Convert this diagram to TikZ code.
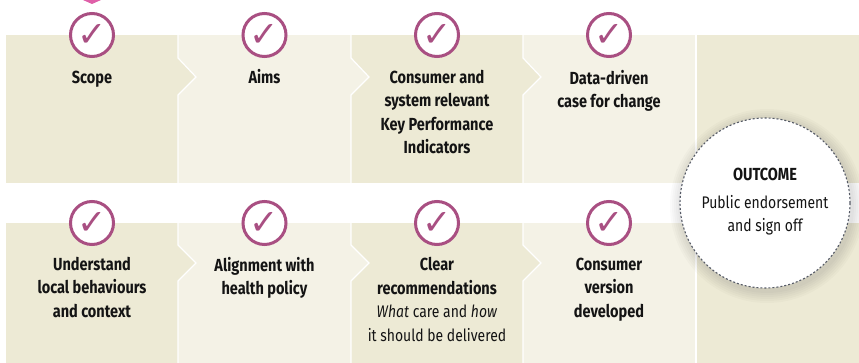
\documentclass[tikz,border=0pt]{standalone}
\usepackage{fontspec}
\setmainfont{Fira Sans}[FakeStretch=0.83]
\newfontfamily\chk{DejaVu Sans}
\newcommand{\regtext}{\fontsize{16.8}{23.5}\selectfont}
\definecolor{darkbeige}{HTML}{EDEAD5}
\definecolor{lightbeige}{HTML}{F4F2E6}
\definecolor{plum}{HTML}{A94F82}
\definecolor{pinktip}{HTML}{DF5FA8}
\definecolor{dotline}{HTML}{555A66}
\tikzset{
  panel/.style={draw=white,line width=1.2pt,line join=miter},
  tickring/.style={circle,draw=plum,line width=3pt,fill=white,minimum size=43pt,inner sep=0pt,text=plum,font=\chk\fontsize{35}{35}\selectfont},
  label/.style={align=center,text=black!92,anchor=north,font=\fontsize{17.5}{23.5}\selectfont,inner sep=0pt,execute at begin node={\rule{0pt}{14pt}}},
}
\begin{document}
\begin{tikzpicture}[x=1pt,y=-1pt]
\useasboundingbox (0,0) rectangle (859,363);
\fill[white] (0,0) rectangle (859,363);
% top row
\fill[darkbeige] (6,35) rectangle (178,183);
\fill[lightbeige] (178,35) rectangle (351,183);
\fill[darkbeige] (351,35) rectangle (523,183);
\fill[lightbeige] (523,35) rectangle (696,183);
\fill[darkbeige] (696,35) rectangle (859,183);
% bottom row
\fill[darkbeige] (6,223) rectangle (178,363);
\fill[lightbeige] (178,223) rectangle (351,363);
\fill[darkbeige] (351,223) rectangle (523,363);
\fill[lightbeige] (523,223) rectangle (696,363);
\fill[darkbeige] (696,223) rectangle (859,363);
% chevrons top
\fill[darkbeige] (178,58) -- (196,77) -- (178,95) -- cycle;
\fill[lightbeige] (351,58) -- (369,77) -- (351,95) -- cycle;
\fill[darkbeige] (523,58) -- (541,77) -- (523,95) -- cycle;
\draw[panel] (178,35) -- (178,58) -- (196,77) -- (178,95) -- (178,183);
\draw[panel] (351,35) -- (351,58) -- (369,77) -- (351,95) -- (351,183);
\draw[panel] (523,35) -- (523,58) -- (541,77) -- (523,95) -- (523,183);
\draw[panel] (696,35) -- (696,183);
% chevrons bottom
\fill[darkbeige] (178,245) -- (196,263) -- (178,281) -- cycle;
\fill[lightbeige] (351,245) -- (369,263) -- (351,281) -- cycle;
\fill[darkbeige] (523,245) -- (541,263) -- (523,281) -- cycle;
\draw[panel] (178,223) -- (178,245) -- (196,263) -- (178,281) -- (178,363);
\draw[panel] (351,223) -- (351,245) -- (369,263) -- (351,281) -- (351,363);
\draw[panel] (523,223) -- (523,245) -- (541,263) -- (523,281) -- (523,363);
\draw[panel] (696,223) -- (696,363);
% pink tip
\fill[pinktip] (83,0) -- (92,4) -- (101,0) -- cycle;
% rings
\node[tickring] (t1) at (92,35) {✓};
\node[tickring] (t2) at (264.5,35) {✓};
\node[tickring] (t3) at (437,35) {✓};
\node[tickring] (t4) at (609,35) {✓};
\node[tickring] (b1) at (92,223) {✓};
\node[tickring] (b2) at (264.5,223) {✓};
\node[tickring] (b3) at (437,223) {✓};
\node[tickring] (b4) at (609,223) {✓};
% labels
\node[label] (l1) at (92,69) {\textbf{Scope}};
\node[label] (l2) at (264.5,69) {\textbf{Aims}};
\node[label] (l3) at (437,70) {\textbf{Consumer and}\\\textbf{system relevant}\\\textbf{Key Performance}\\\textbf{Indicators}};
\node[label] (l4) at (609,70) {\textbf{Data-driven}\\\textbf{case for change}};
\node[label] (l5) at (92,257) {\textbf{Understand}\\\textbf{local behaviours}\\\textbf{and context}};
\node[label] (l6) at (264.5,257) {\textbf{Alignment with}\\\textbf{health policy}};
\node[label] (l7) at (437,257.5) {\textbf{Clear}\\\textbf{recommendations}\\{\regtext\textit{What} care and \textit{how}}\\{\regtext it should be delivered}};
\node[label] (l8) at (609,257.5) {\textbf{Consumer}\\\textbf{version}\\\textbf{developed}};
% outcome with soft shadow
\foreach \r in {97,95,93,91,89,87}{
  \fill[black,opacity=0.018] (767,206) circle (\r);
}
\node[circle,fill=white,draw=dotline,line width=1.1pt,dash pattern=on 2pt off 2pt,minimum size=170pt,inner sep=0pt] (out) at (765,203) {};
\node[label] (o1) at (765,166) {\textbf{OUTCOME}};
\node[label] (o2) at (765,195) {{\regtext Public endorsement}\\{\regtext and sign off}};
\end{tikzpicture}
\end{document}
